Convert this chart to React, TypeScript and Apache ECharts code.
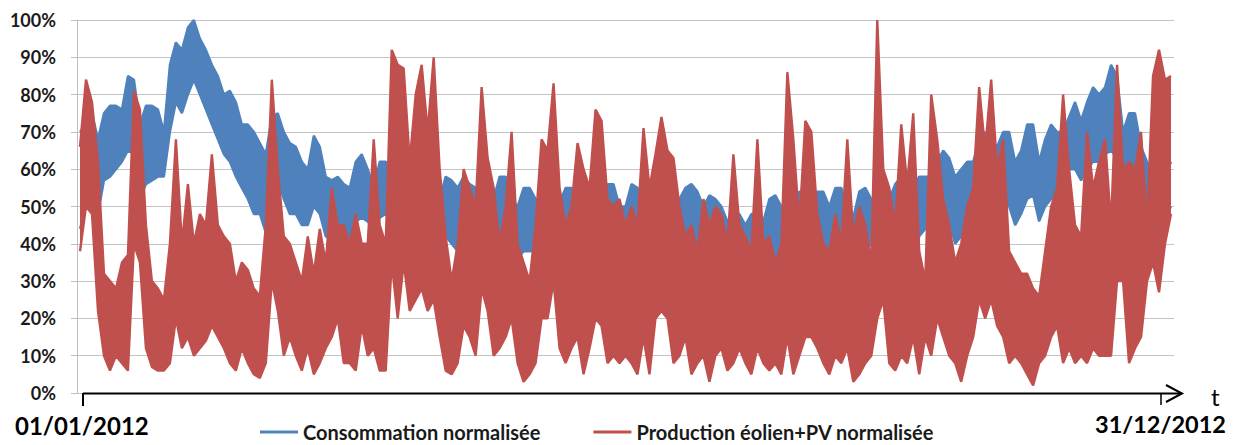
import React, { useEffect, useRef } from "react";
import * as echarts from "echarts";

// Two-day blocks across 2012 (183 blocks): maxima and minima of each block (in %)
const consoHigh = [
  70, 72, 75, 68, 75, 77, 77, 76, 85, 84, 72, 77, 77, 76, 70, 88, 94, 92, 98, 100, 95, 92, 88, 85, 80, 81, 78, 72, 72, 70, 67,
  64, 74, 75, 70, 67, 66, 62, 60, 69, 66, 58, 57, 58, 56, 55, 62, 64, 60, 55, 62, 62, 58, 60, 63, 60, 58, 56, 58, 55, 52,
  58, 57, 55, 58, 56, 55, 53, 50, 52, 58, 58, 52, 50, 55, 55, 52, 50, 55, 54, 51, 55, 55, 51, 54, 55, 53, 52, 56, 56, 50, 50,
  56, 55, 50, 56, 55, 52, 50, 48, 52, 55, 56, 54, 50, 53, 52, 50, 46, 48, 48, 45, 48, 48, 46, 52, 53, 50, 46, 50, 54, 54,
  46, 54, 54, 50, 55, 55, 48, 47, 54, 55, 52, 50, 55, 52, 56, 58, 57, 55, 58, 58, 58, 62, 65, 63, 58, 60, 62, 62, 68, 70, 68,
  66, 70, 70, 62, 65, 72, 72, 62, 68, 72, 70, 70, 74, 78, 73, 78, 82, 80, 82, 88, 85, 70, 75, 75, 66, 62, 58, 62, 58, 62,
];
const consoLow = [
  44, 50, 55, 48, 57, 58, 60, 62, 65, 64, 52, 56, 57, 58, 58, 70, 78, 75, 80, 84, 80, 76, 72, 68, 64, 62, 58, 55, 52, 48, 48,
  43, 55, 57, 52, 48, 48, 45, 45, 50, 48, 42, 41, 42, 40, 42, 46, 47, 46, 44, 47, 48, 46, 46, 48, 46, 44, 42, 43, 42, 40,
  42, 40, 38, 42, 40, 40, 38, 38, 37, 42, 42, 38, 36, 38, 38, 38, 37, 40, 38, 36, 40, 40, 37, 38, 40, 38, 37, 40, 40, 36, 37,
  38, 36, 36, 38, 38, 36, 35, 37, 36, 38, 37, 38, 38, 40, 38, 38, 36, 37, 36, 35, 36, 36, 35, 35, 34, 36, 35, 38, 40, 40,
  38, 38, 38, 36, 37, 36, 36, 34, 36, 38, 40, 38, 40, 36, 38, 40, 38, 36, 42, 44, 44, 48, 48, 46, 40, 42, 45, 46, 50, 52, 52,
  50, 52, 50, 45, 48, 52, 53, 46, 50, 52, 53, 55, 60, 60, 57, 60, 62, 62, 64, 65, 63, 55, 55, 55, 50, 45, 45, 45, 47, 50,
];
const prodHigh = [
  66, 84, 78, 62, 32, 30, 28, 35, 37, 81, 76, 45, 30, 28, 25, 40, 68, 40, 56, 40, 48, 45, 64, 45, 42, 40, 30, 35, 33, 28, 26,
  45, 84, 60, 42, 40, 35, 30, 42, 32, 44, 35, 55, 45, 45, 40, 48, 40, 40, 68, 45, 40, 92, 88, 87, 62, 80, 88, 70, 90, 60,
  42, 30, 40, 60, 55, 50, 82, 63, 55, 40, 50, 70, 40, 35, 30, 45, 68, 65, 83, 55, 45, 50, 67, 60, 55, 76, 73, 52, 50, 52, 45,
  50, 45, 71, 55, 64, 74, 65, 63, 50, 42, 45, 38, 52, 45, 50, 48, 40, 64, 45, 42, 38, 68, 40, 42, 35, 40, 86, 68, 45, 73,
  70, 48, 40, 38, 48, 40, 68, 42, 50, 45, 35, 100, 60, 55, 45, 72, 56, 75, 38, 30, 80, 68, 52, 45, 35, 40, 50, 55, 82, 65, 84,
  60, 68, 38, 35, 32, 32, 28, 26, 38, 50, 55, 80, 60, 45, 42, 70, 55, 62, 68, 45, 88, 60, 62, 60, 70, 45, 85, 92, 84, 85,
];
const prodLow = [
  38, 50, 48, 22, 10, 6, 10, 8, 6, 40, 35, 12, 7, 6, 6, 8, 20, 12, 15, 10, 12, 14, 18, 15, 12, 8, 6, 12, 8, 5, 4,
  8, 30, 22, 10, 15, 10, 6, 12, 5, 8, 12, 15, 20, 8, 8, 6, 18, 10, 12, 6, 6, 35, 20, 35, 22, 25, 28, 22, 25, 15,
  6, 5, 8, 18, 15, 10, 28, 22, 10, 12, 15, 20, 8, 3, 5, 8, 20, 20, 30, 12, 8, 12, 15, 5, 12, 20, 18, 8, 10, 8, 10,
  8, 5, 15, 5, 20, 22, 20, 8, 10, 15, 5, 8, 10, 3, 10, 12, 6, 8, 12, 8, 5, 12, 8, 6, 8, 5, 15, 5, 10, 15,
  15, 12, 8, 5, 10, 8, 12, 3, 5, 8, 10, 20, 25, 8, 6, 10, 8, 15, 5, 15, 10, 20, 15, 10, 8, 3, 10, 15, 25, 20, 25,
  18, 15, 8, 10, 8, 5, 2, 8, 10, 15, 18, 8, 12, 8, 10, 8, 12, 10, 10, 10, 30, 30, 8, 12, 15, 30, 35, 27, 40, 48,
];

const yTicks = [0, 10, 20, 30, 40, 50, 60, 70, 80, 90, 100];
const seriesNames = ["Consommation normalisée", "Production éolien+PV normalisée"];
const startLabel = "01/01/2012";
const endLabel = "31/12/2012";

const BLUE = "#4F81BD";
const RED = "#C0504D";
const FONT = "Lato, 'Open Sans', sans-serif";

// one category per two-day block
const blocks = consoHigh.map((_, k) => String(k));

function bandSeries(name: string, stack: string, high: number[], low: number[], color: string, z: number) {
  return [
    {
      name: name + " (min)",
      type: "line",
      stack,
      data: low,
      showSymbol: false,
      symbol: "none",
      lineStyle: { color, width: 2.4 },
      itemStyle: { color },
      z,
    },
    {
      name,
      type: "line",
      stack,
      data: high.map((v, k) => v - low[k]),
      showSymbol: false,
      symbol: "none",
      lineStyle: { color, width: 2.4 },
      itemStyle: { color },
      areaStyle: { color, opacity: 1 },
      z,
    },
  ];
}

export default function App() {
  const ref = useRef<HTMLDivElement>(null);
  useEffect(() => {
    if (!ref.current) return;
    const chart = echarts.init(ref.current, null, { renderer: "svg" });
    chart.setOption({
      animation: false,
      backgroundColor: "#ffffff",
      grid: { left: 77, right: 63, top: 20, bottom: 52, containLabel: false },
      legend: {
        left: 255,
        top: 417,
        itemWidth: 38,
        itemHeight: 3,
        itemGap: 53,
        icon: "rect",
        data: seriesNames,
        textStyle: { fontFamily: FONT, fontWeight: "bold", fontSize: 20, color: "#1a1a1a" },
      },
      xAxis: {
        type: "category",
        data: blocks,
        boundaryGap: true,
        show: false,
      },
      yAxis: {
        type: "value",
        min: yTicks[0],
        max: yTicks[yTicks.length - 1],
        interval: 10,
        axisLine: { show: true, lineStyle: { color: "#bfbfbf", width: 1 } },
        axisTick: { show: true, length: 6, lineStyle: { color: "#bfbfbf", width: 1 } },
        splitLine: { show: true, lineStyle: { color: "#c4c4c4", width: 1 } },
        axisLabel: {
          formatter: "{value}%",
          margin: 21,
          fontFamily: FONT,
          fontWeight: "bold",
          fontSize: 18,
          color: "#1a1a1a",
        },
      },
      series: [
        ...bandSeries(seriesNames[0], "conso", consoHigh, consoLow, BLUE, 2),
        ...bandSeries(seriesNames[1], "prod", prodHigh, prodLow, RED, 3),
      ],
      graphic: [
        { type: "line", shape: { x1: 83, y1: 393.5, x2: 1182, y2: 393.5 }, style: { stroke: "#000", lineWidth: 2 }, z: 100 },
        { type: "polyline", shape: { points: [[1166, 385], [1182, 393.5], [1166, 402]] }, style: { stroke: "#000", lineWidth: 2, fill: null }, z: 100 },
        { type: "line", shape: { x1: 83, y1: 393, x2: 83, y2: 406 }, style: { stroke: "#000", lineWidth: 2 }, z: 100 },
        { type: "line", shape: { x1: 1161, y1: 393, x2: 1161, y2: 405 }, style: { stroke: "#000", lineWidth: 1.5 }, z: 100 },
        { type: "text", x: 1211, y: 396, style: { text: "t", font: `24px ${FONT}`, fill: "#000", verticalAlign: "middle" }, z: 100 },
        { type: "text", x: 15, y: 425, style: { text: startLabel, font: `bold 24px ${FONT}`, fill: "#000", verticalAlign: "middle" }, z: 100 },
        { type: "text", x: 1095, y: 424, style: { text: endLabel, font: `bold 23.5px ${FONT}`, fill: "#000", verticalAlign: "middle" }, z: 100 },
      ],
    });
    return () => chart.dispose();
  }, []);
  return <div ref={ref} style={{ position: "absolute", left: 0, top: 0, width: 1237, height: 445 }} />;
}
